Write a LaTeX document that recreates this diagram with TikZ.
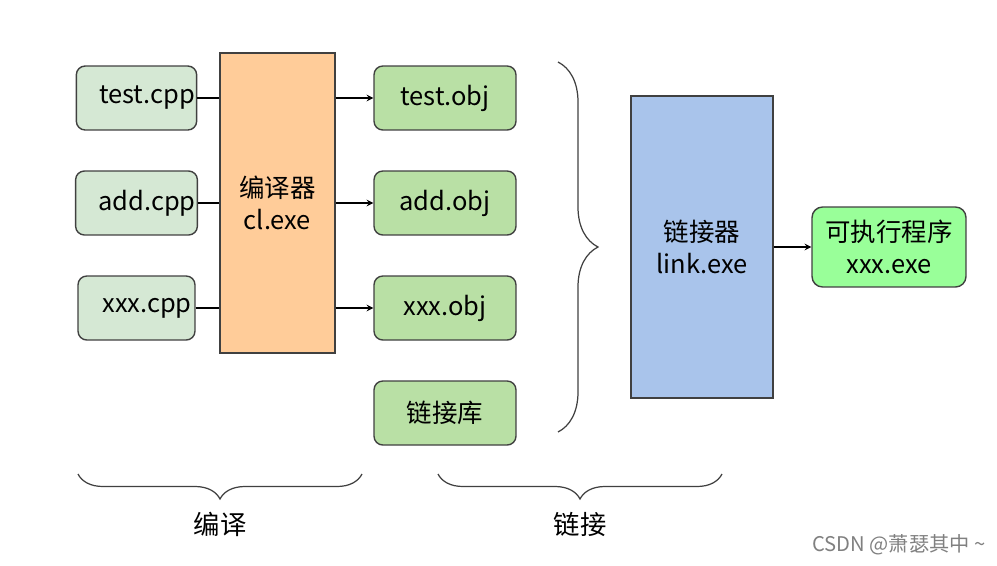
\documentclass[tikz,border=0pt]{standalone}
\usepackage{fontspec}
\setmainfont{Noto Sans CJK SC}
\usetikzlibrary{decorations.pathreplacing,positioning}

\definecolor{srcfill}{HTML}{D5E8D4}
\definecolor{objfill}{HTML}{B9E0A5}
\definecolor{clfill}{HTML}{FFCC99}
\definecolor{linkfill}{HTML}{A9C4EB}
\definecolor{exefill}{HTML}{99FF99}

\tikzset{
    box/.style={draw=black!75, line width=0.8pt, font=\fontsize{14.5}{18.5}\selectfont, align=center, inner sep=1pt},
    srcbox/.style={box, rounded corners=5pt, fill=srcfill, minimum width=2.34cm, minimum height=1.28cm},
    objbox/.style={box, rounded corners=5pt, fill=objfill, minimum width=2.84cm, minimum height=1.28cm},
    toolbox/.style={box, minimum width=2.3cm},
    brace/.style={decorate, draw=black!75, line width=0.7pt},
}

\begin{document}
\begin{tikzpicture}[x=0.02cm, y=-0.02cm, >=stealth]
    \useasboundingbox (0,0) rectangle (997,565);

    % source files
    \node[srcbox] (tcpp) at (136.5, 98)  {\hspace*{0.42cm}test.cpp};
    \node[srcbox] (acpp) at (136.5, 203) {\hspace*{0.42cm}add.cpp};
    \node[srcbox] (xcpp) at (136.5, 308) {\hspace*{0.42cm}xxx.cpp};

    % compiler
    \node[toolbox, fill=clfill, minimum height=6cm] (cl) at (277.5, 203) {编译器\\cl.exe};

    % object files
    \node[objbox] (tobj) at (445, 98)  {test.obj};
    \node[objbox] (aobj) at (445, 203) {add.obj};
    \node[objbox] (xobj) at (445, 308) {xxx.obj};
    \node[objbox] (lib)  at (445, 413) {链接库};

    % linker and result
    \node[toolbox, fill=linkfill, minimum width=2.84cm, minimum height=6.04cm] (link) at (702, 247) {链接器\\link.exe};
    \node[box, rounded corners=6pt, fill=exefill, minimum width=3.08cm, minimum height=1.6cm] (exe) at (889, 247) {可执行程序\\xxx.exe};

    \foreach \s/\o in {tcpp/tobj, acpp/aobj, xcpp/xobj} {
        \draw[line width=0.7pt] (\s.east) -- (\s -| cl.west);
        \draw[->, line width=0.7pt] (cl.east |- \o) -- (\o.west);
    }
    \draw[->, line width=0.7pt] (link.east |- exe) -- (exe.west);

    % braces
    \coordinate (rtop) at (558, 62);
    \coordinate (rbot) at (558, 432);
    \draw[brace, decoration={brace, amplitude=0.8cm}] (rtop) -- (rbot);

    \coordinate (cr) at (362, 474);
    \coordinate (cl0) at (78, 474);
    \draw[brace, decoration={brace, amplitude=0.5cm}] (cr) -- (cl0);
    \coordinate (lr) at (722, 474);
    \coordinate (ll) at (438, 474);
    \draw[brace, decoration={brace, amplitude=0.5cm}] (lr) -- (ll);

    \node[font=\fontsize{15}{18}\selectfont] (compile) at (220, 524) {编译};
    \node[font=\fontsize{15}{18}\selectfont] (linking) at (580, 524) {链接};

    \node[font=\fontsize{11.5}{13}\selectfont, gray] (mark) at (899, 545) {CSDN @萧瑟其中 \textasciitilde};
\end{tikzpicture}
\end{document}
